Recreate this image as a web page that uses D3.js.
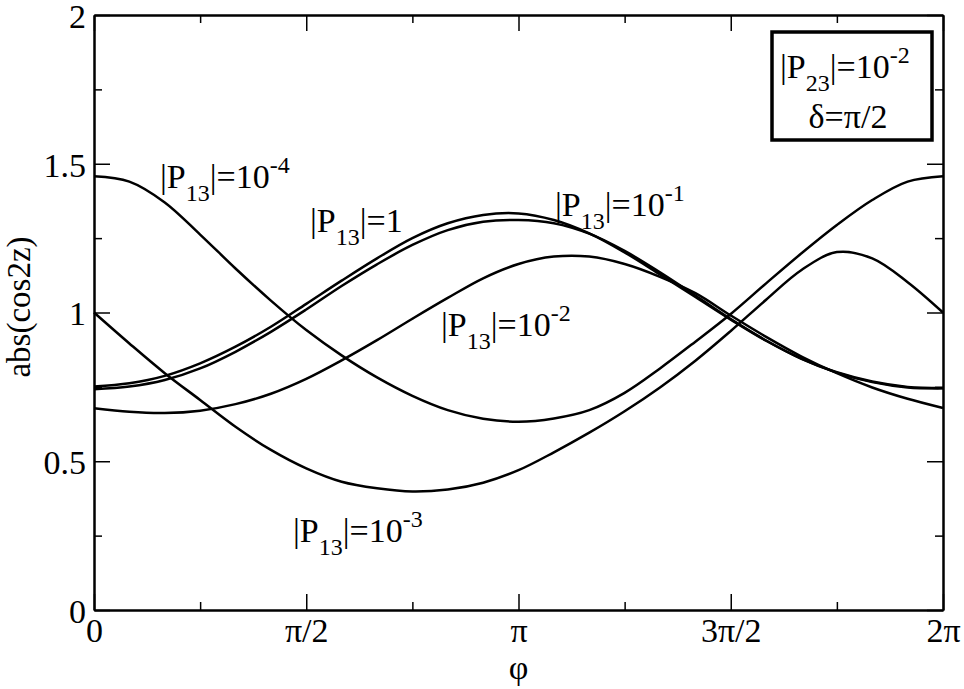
<!DOCTYPE html>
<html>
<head>
<meta charset="utf-8">
<script src="https://cdn.jsdelivr.net/npm/d3@7"></script>
<style>
  body { margin: 0; background: #fff; }
  svg { display: block; }
  svg text { font-family: "Liberation Serif", "Times New Roman", Times, Tinos, "Nimbus Roman", "DejaVu Serif", serif !important; fill: #000; }
</style>
</head>
<body>
<svg id="chart"></svg>
<script>
// phi values, in units of pi
const phiOverPi = [0, 0.0833, 0.1667, 0.25, 0.3333, 0.4167, 0.5, 0.5833, 0.6667, 0.75, 0.8333, 0.9167,
  1, 1.0833, 1.1667, 1.25, 1.3333, 1.4167, 1.5, 1.5833, 1.6667, 1.75, 1.8333, 1.9167, 2];

// abs(cos2z) for each |P13|
const p13e4 = [1.458, 1.44, 1.37, 1.262, 1.148, 1.04, 0.941, 0.856, 0.782, 0.72, 0.672, 0.643,
  0.633, 0.644, 0.672, 0.73, 0.812, 0.902, 0.995, 1.098, 1.199, 1.294, 1.378, 1.44, 1.458];
const p13e3 = [1.0, 0.896, 0.796, 0.706, 0.616, 0.538, 0.476, 0.431, 0.409, 0.398, 0.405, 0.428,
  0.47, 0.53, 0.596, 0.668, 0.748, 0.838, 0.938, 1.043, 1.143, 1.203, 1.182, 1.102, 1.0];
const p13e2 = [0.678, 0.666, 0.662, 0.67, 0.692, 0.727, 0.777, 0.839, 0.907, 0.979, 1.049, 1.115,
  1.163, 1.188, 1.188, 1.163, 1.12, 1.065, 0.99, 0.918, 0.852, 0.796, 0.748, 0.71, 0.679];
const p13e1 = [0.742, 0.751, 0.773, 0.812, 0.868, 0.935, 1.01, 1.089, 1.162, 1.227, 1.277, 1.305,
  1.311, 1.30, 1.265, 1.207, 1.135, 1.057, 0.978, 0.906, 0.844, 0.798, 0.766, 0.748, 0.745];
const p13one = [0.751, 0.762, 0.787, 0.829, 0.885, 0.952, 1.029, 1.107, 1.182, 1.25, 1.3, 1.328,
  1.333, 1.311, 1.266, 1.202, 1.128, 1.052, 0.976, 0.905, 0.845, 0.799, 0.768, 0.75, 0.746];

const xTickVals = [0, 0.5, 1, 1.5, 2];
const xTickLabels = ["0", "\u03c0/2", "\u03c0", "3\u03c0/2", "2\u03c0"];
const yTickVals = [0, 0.5, 1, 1.5, 2];
const yTickLabels = ["0", "0.5", "1", "1.5", "2"];

// curve labels: |P13| = 10^exp (null -> "=1")
const labelSup = ["-4", "-3", "-2", "-1", null];
const labelPos = [[160, 188], [293, 542], [441, 336], [555, 216], [310, 232]];

const width = 964, height = 689;
const margin = {top: 15, right: 21, bottom: 79, left: 94};
const w = width - margin.left - margin.right;
const h = height - margin.top - margin.bottom;
const serif = '"Liberation Serif", "Times New Roman", Times, Tinos, "Nimbus Roman", "DejaVu Serif", serif';

const svg = d3.select('#chart').attr('width', width).attr('height', height)
  .attr('font-family', serif);
const g = svg.append('g').attr('transform', 'translate(' + margin.left + ',' + margin.top + ')');

const x = d3.scaleLinear().domain([0, 2]).range([0, w]);
const y = d3.scaleLinear().domain([0, 2]).range([h, 0]);

// axes, ticks pointing inward on all four sides
function styleAxis(sel) {
  sel.attr('font-family', serif);
  sel.selectAll('path.domain').attr('stroke-width', 2);
  sel.selectAll('.tick line').attr('stroke-width', 1.5);
  sel.selectAll('text').attr('font-size', 34).attr('fill', '#000');
}

const xMinor = [0.25, 0.75, 1.25, 1.75];
const yMinor = [0.25, 0.75, 1.25, 1.75];

g.append('g').attr('transform', 'translate(0,' + h + ')')
  .call(d3.axisBottom(x).tickValues(xTickVals).tickSizeInner(-16).tickSizeOuter(0).tickPadding(8)
    .tickFormat((d, i) => xTickLabels[i]))
  .call(styleAxis);
g.append('g').attr('transform', 'translate(0,' + h + ')')
  .call(d3.axisBottom(x).tickValues(xMinor).tickSizeInner(-8).tickSizeOuter(0).tickFormat(''))
  .call(styleAxis);
g.append('g')
  .call(d3.axisTop(x).tickValues(xTickVals).tickSizeInner(-16).tickSizeOuter(0).tickFormat(''))
  .call(styleAxis);
g.append('g')
  .call(d3.axisTop(x).tickValues(xMinor).tickSizeInner(-8).tickSizeOuter(0).tickFormat(''))
  .call(styleAxis);

const yAx = g.append('g')
  .call(d3.axisLeft(y).tickValues(yTickVals).tickSizeInner(-16).tickSizeOuter(0).tickPadding(8)
    .tickFormat((d, i) => yTickLabels[i]))
  .call(styleAxis);
yAx.selectAll('text').attr('dy', '0.36em');
g.append('g')
  .call(d3.axisLeft(y).tickValues(yMinor).tickSizeInner(-8).tickSizeOuter(0).tickFormat(''))
  .call(styleAxis);
g.append('g').attr('transform', 'translate(' + w + ',0)')
  .call(d3.axisRight(y).tickValues(yTickVals).tickSizeInner(-16).tickSizeOuter(0).tickFormat(''))
  .call(styleAxis);
g.append('g').attr('transform', 'translate(' + w + ',0)')
  .call(d3.axisRight(y).tickValues(yMinor).tickSizeInner(-8).tickSizeOuter(0).tickFormat(''))
  .call(styleAxis);

// axis titles
svg.append('text')
  .attr('x', margin.left + w / 2).attr('y', 679)
  .attr('text-anchor', 'middle').attr('font-size', 34)
  .text('\u03c6');
svg.append('text')
  .attr('transform', 'translate(30,307) rotate(-90)')
  .attr('text-anchor', 'middle').attr('font-size', 33)
  .text('abs(cos2z)');

// curves
const series = [p13e4, p13e3, p13e2, p13e1, p13one];
const line = d3.line()
  .x((d, i) => x(phiOverPi[i]))
  .y(d => y(d))
  .curve(d3.curveCatmullRom);

g.selectAll('path.curve')
  .data(series)
  .enter()
  .append('path')
  .attr('class', 'curve')
  .attr('d', line)
  .attr('fill', 'none')
  .attr('stroke', '#000')
  .attr('stroke-width', 2.5);

// curve labels
function pLabel(parent, px, py, sub, tail, sup) {
  const t = parent.append('text').attr('x', px).attr('y', py).attr('font-size', 34);
  t.append('tspan').text('|P');
  t.append('tspan').attr('font-size', 24).attr('dy', 13).text(sub);
  t.append('tspan').attr('dy', -13).text(tail);
  if (sup) t.append('tspan').attr('font-size', 24).attr('dy', -15).text(sup);
  return t;
}

labelSup.forEach(function(s, i) {
  pLabel(svg, labelPos[i][0], labelPos[i][1], '13', s ? '|=10' : '|=1', s);
});

// parameter box
svg.append('rect')
  .attr('x', 772).attr('y', 32).attr('width', 160).attr('height', 108)
  .attr('fill', '#fff').attr('stroke', '#000').attr('stroke-width', 3.5);
pLabel(svg, 780, 78, '23', '|=10', '-2');
svg.append('text')
  .attr('x', 848).attr('y', 128).attr('text-anchor', 'middle').attr('font-size', 34)
  .text('\u03b4=\u03c0/2');
</script>
</body>
</html>
